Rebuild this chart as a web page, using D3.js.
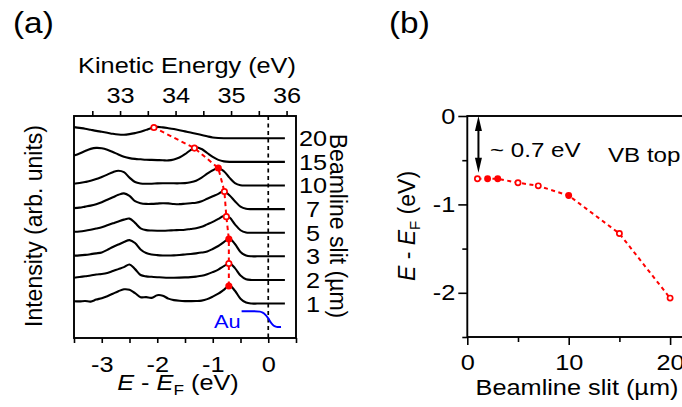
<!DOCTYPE html>
<html>
<head>
<meta charset="utf-8">
<script src="https://cdn.jsdelivr.net/npm/d3@7"></script>
<style>
  body { margin: 0; background: #fff; }
  svg { display: block; }
  text { font-family: "Liberation Sans", Arial, Helvetica, sans-serif; fill: #000; }
</style>
</head>
<body>
<svg id="fig" width="682" height="407"></svg>
<script>
// ---------------- data ----------------
// binding energy grid of the photoemission spectra (eV, relative to E_F)
const energies = [-3.5,-3.4,-3.3,-3.2,-3.1,-3.0,-2.9,-2.8,-2.7,-2.6,-2.5,-2.4,-2.3,-2.2,-2.1,-2.0,-1.9,-1.8,-1.7,-1.6,
                  -1.5,-1.4,-1.3,-1.2,-1.1,-1.0,-0.9,-0.8,-0.7,-0.6,-0.5,-0.4,-0.3,-0.2,-0.1,0.0,0.1,0.2,0.3];

// beamline slit width of each spectrum (µm)
const slits = [1, 2, 3, 5, 7, 10, 15, 20];

// intensities (arb. units) for each slit width
const spec1  = [2.4,2.2,2.6,2.0,4.0,5.5,7.5,10.0,12.5,14.5,14.0,10.5,6.5,6.5,5.8,8.5,8.0,5.0,3.5,2.8,
                2.5,2.5,2.6,3.0,4.5,7.0,10.0,14.0,18.3,13.0,5.0,1.0,0,0,0,0,0,0,0];
const spec2  = [2.3,3.0,3.8,4.5,5.5,6.0,7.0,9.0,11.0,13.0,15.7,11.0,5.0,3.6,3.2,2.8,2.5,2.3,2.3,2.4,
                2.6,2.9,3.4,4.2,5.8,8.0,10.5,14.0,17.0,12.0,4.5,0.7,0,0,0,0,0,0,0];
const spec3  = [0.7,1.0,1.5,2.2,3.0,4.0,6.5,9.5,12.0,14.5,16.5,13.5,7.0,3.3,1.8,1.2,0.9,0.8,1.0,1.4,
                1.9,2.4,3.0,3.8,5.0,7.5,10.5,14.5,18.0,12.5,4.5,0.8,0,0,0,0,0,0,0];
const spec5  = [1.0,1.3,2.0,3.0,4.2,5.5,7.5,9.5,11.5,13.3,14.3,10.0,4.5,2.6,2.2,2.0,2.0,2.2,2.5,2.7,
                3.0,3.8,4.5,6.0,8.5,11.0,14.0,17.0,15.5,8.5,2.5,0.2,0,0,0,0,0,0,0];
const spec7  = [1.0,1.5,2.5,3.5,5.0,7.0,9.5,12.0,14.5,16.0,13.5,8.0,6.0,5.3,5.3,5.6,6.0,5.8,5.2,5.0,
                5.5,6.0,6.5,8.0,10.5,13.0,15.5,18.3,14.0,8.0,2.5,0.3,0,0,0,0,0,0,0];
const spec10 = [1.7,2.5,3.5,4.7,6.5,8.7,11.0,13.5,15.0,13.5,8.0,3.5,2.0,1.7,1.8,2.1,2.3,2.3,2.2,2.2,
                2.4,3.2,4.8,8.0,12.0,15.5,17.7,14.5,8.0,2.5,0.3,0,0,0,0,0,0,0,0];
const spec15 = [6.4,8.5,11.0,13.2,14.2,13.8,12.3,10.0,7.5,5.3,3.8,3.0,2.6,2.2,2.0,1.8,1.6,1.5,2.5,4.5,
                7.8,12.0,14.8,13.0,9.0,5.0,2.0,0.5,0,0,0,0,0,0,0,0,0,0,0];
const spec20 = [11.3,10.5,9.7,8.6,7.5,6.6,5.6,4.5,3.8,3.6,4.2,5.2,6.5,8.5,10.5,11.5,11.0,10.2,9.3,8.2,
                7.0,5.8,4.6,3.3,2.0,0.8,0.2,0,0,0,0,0,0,0,0,0,0,0,0];
const spectra = [spec1, spec2, spec3, spec5, spec7, spec10, spec15, spec20];

// valence-band top position for each slit width (eV)
const vbTop = [-0.71, -0.71, -0.71, -0.755, -0.79, -0.90, -1.33, -2.06];

// Au Fermi edge reference
const auEnergy    = [-0.48, -0.30, -0.15, -0.10, -0.05, 0.00, 0.05, 0.10, 0.15, 0.23];
const auIntensity = [-7.8, -7.8, -8.2, -9.3, -11.5, -15.0, -19.5, -22.5, -23.7, -23.8];

// axis ticks
const bindingTicks  = [-3.5, -3, -2.5, -2, -1.5, -1, -0.5, 0, 0.5];
const kineticTicks  = [32.5, 33, 33.5, 34, 34.5, 35, 35.5, 36];
const kineticAtEF   = 35.67;   // kinetic energy of the Fermi level (eV)
const slitTicks     = [0, 5, 10, 15, 20];
const vbAxisTicks   = [0, -0.5, -1, -1.5, -2, -2.5];

// ---------------- drawing ----------------
const svg = d3.select("#fig");
const SX = 1.15;          // horizontal stretch of the lettering
const FS = 22;            // base font size
const red = "#ff0000";
const solidA = new Set([0, 2, 5]);   // filled markers in (a)
const solidB = new Set([1, 2, 5]);   // filled markers in (b)
const offsetStep = 24;               // vertical offset between stacked spectra

function label(parent, x, y, parts, opt = {}) {
  const tf = opt.rotate
    ? `translate(${x},${y}) rotate(${opt.rotate})`
    : `translate(${x},${y}) scale(${SX},1)`;
  const t = parent.append("text")
    .attr("transform", tf)
    .attr("text-anchor", opt.anchor || "start")
    .attr("font-size", opt.size || FS)
    .style("fill", opt.fill || "#000");
  if (typeof parts === "string") parts = [{ t: parts }];
  parts.forEach(p => {
    const s = t.append("tspan").text(p.t);
    if (p.italic) s.attr("font-style", "italic");
    if (p.size) s.attr("font-size", p.size);
    if (p.dy) s.attr("dy", p.dy);
  });
  return t;
}

function stretchTicks(axisG, anchorX) {
  axisG.selectAll(".tick text").each(function () {
    const s = d3.select(this);
    const x = +s.attr("x") || 0, y = +s.attr("y") || 0;
    s.attr("x", null).attr("y", null)
     .attr("transform", `translate(${anchorX !== undefined ? anchorX : x},${y}) scale(${SX},1)`);
  });
}

const eLabel = [
  { t: "E", italic: true }, { t: " - " }, { t: "E", italic: true },
  { t: "F", size: 15, dy: 5 }, { t: " (eV)", dy: -5 }
];

// ===== panel (a) =====
const ax0 = 74, ax1 = 296, ay0 = 116, ay1 = 338;
const xA = d3.scaleLinear().domain([-3.5, 0.5]).range([ax0, ax1]);
const xK = d3.scaleLinear().domain([-3.5 + kineticAtEF, 0.5 + kineticAtEF]).range([ax0, ax1]);
const yA = d3.scaleLinear().domain([-35, 190.6]).range([ay1, ay0]);

const gA = svg.append("g");

const bottomA = gA.append("g").attr("transform", `translate(0,${ay1})`)
  .call(d3.axisBottom(xA).tickValues(bindingTicks).tickSize(5).tickPadding(13)
        .tickFormat(d => Number.isInteger(d) ? String(d) : ""));
const topA = gA.append("g").attr("transform", `translate(0,${ay0})`)
  .call(d3.axisTop(xK).tickValues(kineticTicks).tickSize(5).tickPadding(8)
        .tickFormat(d => Number.isInteger(d) ? String(d) : ""));
[bottomA, topA].forEach(g => {
  g.select(".domain").remove();
  g.selectAll(".tick line").attr("stroke", "#000").attr("stroke-width", 1.6);
  g.selectAll(".tick text").attr("font-size", FS).attr("font-family", null).style("fill", "#000");
  stretchTicks(g);
});

// Fermi level
gA.append("line")
  .attr("x1", xA(0)).attr("x2", xA(0)).attr("y1", ay0).attr("y2", ay1)
  .attr("stroke", "#000").attr("stroke-width", 1.7).attr("stroke-dasharray", "4,3.5");

// stacked spectra
const lineA = d3.line().curve(d3.curveCatmullRom.alpha(0.5));
spectra.forEach((spec, i) => {
  const pts = energies.map((e, k) => [xA(e), yA(i * offsetStep + spec[k])]);
  gA.append("path").attr("d", lineA(pts))
    .attr("fill", "none").attr("stroke", "#000").attr("stroke-width", 2.1)
    .attr("stroke-linejoin", "round");
  label(gA, 313, yA(i * offsetStep) + 8, String(slits[i]), { anchor: "middle" });
});

// Au reference edge
gA.append("path")
  .attr("d", lineA(auEnergy.map((e, k) => [xA(e), yA(auIntensity[k])])))
  .attr("fill", "none").attr("stroke", "#0000ff").attr("stroke-width", 2);
label(gA, xA(auEnergy[0]) - 1, yA(auIntensity[0]) + 17, "Au", { anchor: "end", size: 19, fill: "#0000ff" });

// VB-top markers on each spectrum
function intensityAt(spec, e) {
  return d3.scaleLinear().domain(energies).range(spec)(e);
}
const peakPts = spectra.map((spec, i) =>
  [xA(vbTop[i]), yA(i * offsetStep + intensityAt(spec, vbTop[i]))]);
gA.append("path").attr("d", d3.line()(peakPts))
  .attr("fill", "none").attr("stroke", red).attr("stroke-width", 2)
  .attr("stroke-dasharray", "4.5,3.5");
peakPts.forEach((p, i) => {
  gA.append("circle").attr("cx", p[0]).attr("cy", p[1]).attr("r", 2.7)
    .attr("fill", solidA.has(i) ? red : "#fff").attr("stroke", red).attr("stroke-width", 1.7);
});

// frame
gA.append("rect").attr("x", ax0).attr("y", ay0).attr("width", ax1 - ax0).attr("height", ay1 - ay0)
  .attr("fill", "none").attr("stroke", "#000").attr("stroke-width", 1.9);

// texts
label(gA, 13, 33, "(a)", { size: 29 });
label(gA, 187, 73, "Kinetic Energy (eV)", { anchor: "middle" });
label(gA, 178, 390, eLabel, { anchor: "middle" });
label(gA, 42, 226, "Intensity (arb. units)", { anchor: "middle", size: 23, rotate: -90 });
label(gA, 330, 226, "Beamline slit (µm)", { anchor: "middle", size: 23, rotate: 90 });

// ===== panel (b) =====
const bx0 = 467.3, by0 = 116, by1 = 337;
const xB = d3.scaleLinear().domain([0, 22]).range([bx0, bx0 + 22 * 10.14]);
const yB = d3.scaleLinear().domain([-2.5, 0]).range([by1, by0]);
const gB = svg.append("g");

const bottomB = gB.append("g").attr("transform", `translate(0,${by1})`)
  .call(d3.axisBottom(xB).tickValues(slitTicks).tickSize(8).tickPadding(9.5)
        .tickFormat(d => d % 10 === 0 ? String(d) : ""));
const leftB = gB.append("g").attr("transform", `translate(${bx0},0)`)
  .call(d3.axisLeft(yB).tickValues(vbAxisTicks).tickSize(9).tickPadding(3)
        .tickFormat(d => Number.isInteger(d) ? String(d) : ""));
[bottomB, leftB].forEach(g => {
  g.select(".domain").remove();
  g.selectAll(".tick line").attr("stroke", "#000").attr("stroke-width", 1.6);
  g.selectAll(".tick text").attr("font-size", FS).attr("font-family", null).style("fill", "#000");
});
bottomB.selectAll(".tick line").filter(d => d % 10 !== 0).attr("y2", 5);
leftB.selectAll(".tick line").filter(d => !Number.isInteger(d)).attr("x2", -5);
stretchTicks(bottomB);
stretchTicks(leftB, -12);

// frame (right side runs past the figure edge)
gB.append("rect").attr("x", bx0).attr("y", by0).attr("width", xB(22) - bx0).attr("height", by1 - by0)
  .attr("fill", "none").attr("stroke", "#000").attr("stroke-width", 1.9);

// VB top vs slit width
const ptsB = slits.map((s, i) => [xB(s), yB(vbTop[i])]);
gB.append("path").attr("d", d3.line()(ptsB))
  .attr("fill", "none").attr("stroke", red).attr("stroke-width", 2)
  .attr("stroke-dasharray", "4,3.5");
ptsB.forEach((p, i) => {
  gB.append("circle").attr("cx", p[0]).attr("cy", p[1]).attr("r", 2.6)
    .attr("fill", solidB.has(i) ? red : "#fff").attr("stroke", red).attr("stroke-width", 1.7);
});

// double arrow from E_F down to the VB top
const arrX = xB(slits[0]) + 1;
const arrTop = yB(0), arrBot = yB(vbTop[0]) - 6;
gB.append("line").attr("x1", arrX).attr("x2", arrX).attr("y1", arrTop + 8).attr("y2", arrBot - 8)
  .attr("stroke", "#000").attr("stroke-width", 2);
gB.append("path")
  .attr("d", `M${arrX},${arrTop} l-3.5,15 l7,0 Z M${arrX},${arrBot} l-3.5,-15 l7,0 Z`)
  .attr("fill", "#000");

label(gB, 490, 157, "~ 0.7 eV", { size: 21 });
label(gB, 608, 162, "VB top", { size: 21 });
label(gB, 389, 33, "(b)", { size: 29 });
label(gB, 577, 395, "Beamline slit (µm)", { anchor: "middle" });
label(gB, 415, 226, eLabel, { anchor: "middle", size: 23, rotate: -90 });
</script>
</body>
</html>
